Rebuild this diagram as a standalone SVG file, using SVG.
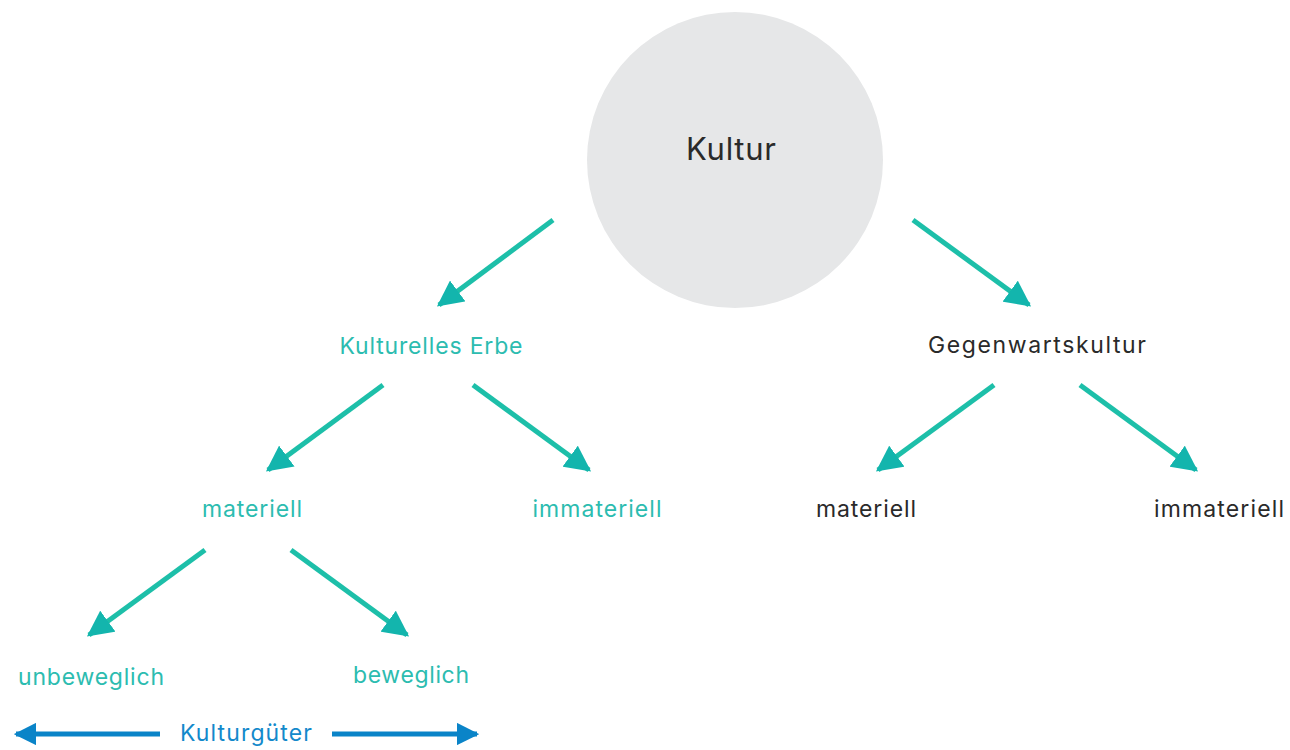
<svg xmlns="http://www.w3.org/2000/svg" width="1290" height="750" viewBox="0 0 1290 750">
<style>
text{font-family:Inter,"Open Sans","Liberation Sans",sans-serif;font-size:23px;text-anchor:middle}
.t{fill:#2cbcb0}
.d{fill:#2a2a2a}
.b{fill:#1389cb}
.c{stroke:#1dbfa9;stroke-width:5;fill:none}
.h{fill:#13b5ad}
.bl{stroke:#0a84c8;stroke-width:5;fill:none}
.bh{fill:#0a84c8}
</style>
<defs>
<marker id="ah" viewBox="0 0 10 10" refX="9" refY="5" markerWidth="5.2" markerHeight="5.2" markerUnits="strokeWidth" orient="auto">
<path d="M0,0 L10,5 L0,10 z" class="h"/>
</marker>
<marker id="bh" viewBox="0 0 10 10" refX="9" refY="5" markerWidth="4.5" markerHeight="4.5" markerUnits="strokeWidth" orient="auto">
<path d="M0,0 L10,5 L0,10 z" class="bh"/>
</marker>
</defs>
<g id="kultur">
<circle cx="735" cy="160" r="148" fill="#e6e7e8"/>
<text x="731" y="160" class="d" style="font-size:31px" textLength="90" lengthAdjust="spacing">Kultur</text>
</g>
<g id="erbe"><text x="431" y="354" class="t" textLength="183" lengthAdjust="spacing">Kulturelles Erbe</text></g>
<g id="gegenwart"><text x="1037" y="353" class="d" textLength="218" lengthAdjust="spacing">Gegenwartskultur</text></g>
<g id="e-materiell"><text x="252" y="517" class="t" textLength="100" lengthAdjust="spacing">materiell</text></g>
<g id="e-immateriell"><text x="597" y="517" class="t" textLength="129" lengthAdjust="spacing">immateriell</text></g>
<g id="g-materiell"><text x="866" y="517" class="d" textLength="100" lengthAdjust="spacing">materiell</text></g>
<g id="g-immateriell"><text x="1219" y="517" class="d" textLength="130" lengthAdjust="spacing">immateriell</text></g>
<g id="unbeweglich"><text x="91" y="685" class="t" textLength="146" lengthAdjust="spacing">unbeweglich</text></g>
<g id="beweglich"><text x="411" y="683" class="t" textLength="116" lengthAdjust="spacing">beweglich</text></g>
<g id="kulturgueter"><text x="246" y="741" class="b" textLength="132" lengthAdjust="spacing">Kulturgüter</text></g>
<g id="connectors">
<line x1="553" y1="220" x2="439" y2="305" class="c" marker-end="url(#ah)"/>
<line x1="913" y1="220" x2="1029" y2="305" class="c" marker-end="url(#ah)"/>
<line x1="383" y1="385" x2="268" y2="470" class="c" marker-end="url(#ah)"/>
<line x1="473" y1="385" x2="589" y2="470" class="c" marker-end="url(#ah)"/>
<line x1="994" y1="385" x2="878" y2="470" class="c" marker-end="url(#ah)"/>
<line x1="1080" y1="385" x2="1196" y2="470" class="c" marker-end="url(#ah)"/>
<line x1="205" y1="550" x2="89" y2="635" class="c" marker-end="url(#ah)"/>
<line x1="291" y1="550" x2="407" y2="635" class="c" marker-end="url(#ah)"/>
<line x1="160" y1="734" x2="16" y2="734" class="bl" marker-end="url(#bh)"/>
<line x1="332" y1="734" x2="477" y2="734" class="bl" marker-end="url(#bh)"/>
</g>
</svg>
